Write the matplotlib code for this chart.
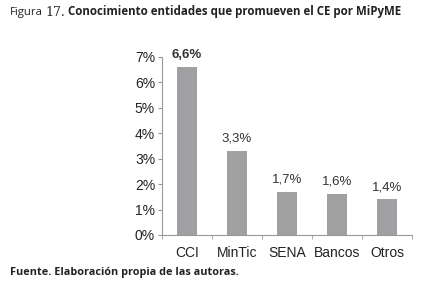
import matplotlib.pyplot as plt
import numpy as np

plt.rcParams['font.family'] = 'Liberation Sans'

# Datos
categorias = ['CCI', 'MinTic', 'SENA', 'Bancos', 'Otros']
valores = [6.6, 3.3, 1.7, 1.6, 1.4]
etiquetas = ['6,6%', '3,3%', '1,7%', '1,6%', '1,4%']

fig = plt.figure(figsize=(4.27, 2.89), dpi=100)
fig.patch.set_facecolor('white')

# Eje: x de 162 a 412 px, y de 235 a 57 px
ax = fig.add_axes([162 / 427, (289 - 235) / 289, 250 / 427, 178 / 289])

x = np.arange(len(categorias))
ax.bar(x, valores, width=0.4, color='#a0a0a2')

for xi, v, lab in zip(x, valores, etiquetas):
    ax.text(xi, v + 0.25, lab, ha='center', va='bottom', fontsize=9.5,
            color='#333333', fontweight='bold' if xi == 0 else 'normal',
            clip_on=False)

ax.set_xlim(-0.5, len(categorias) - 0.5)
ax.set_ylim(0, 7)
ax.set_yticks(range(8))
ax.set_yticklabels([f'{i}%' for i in range(8)])
ax.set_xticks(x)
ax.set_xticklabels(categorias)
ax.set_xticks(np.arange(-0.5, len(categorias)), minor=True)

for s in ['top', 'right']:
    ax.spines[s].set_visible(False)
for s in ['left', 'bottom']:
    ax.spines[s].set_color('#999999')
    ax.spines[s].set_linewidth(0.8)

ax.tick_params(axis='y', labelsize=10, colors='#999999', labelcolor='#222222',
               length=3, pad=2)
ax.tick_params(axis='x', which='major', length=0, labelsize=10,
               labelcolor='#222222', pad=8)
ax.tick_params(axis='x', which='minor', length=3, color='#999999')

fig.text(10 / 427, 1 - 12 / 289, 'Figura', fontsize=8.2, family='Open Sans',
         va='center', ha='left', color='#222222')
fig.text(45 / 427, 1 - 12 / 289, '17.', fontsize=9, family='DejaVu Serif',
         va='center', ha='left', color='#222222')
fig.text(68 / 427, 1 - 12 / 289,
         'Conocimiento entidades que promueven el CE por MiPyME',
         fontsize=8.3, family='Open Sans', fontweight='bold',
         va='center', ha='left', color='#222222')
fig.text(10 / 427, 1 - 273 / 289, 'Fuente. Elaboración propia de las autoras.',
         fontsize=7.8, family='Open Sans', fontweight='bold',
         va='center', ha='left', color='#222222')

fig.savefig('out.png', dpi=100)
